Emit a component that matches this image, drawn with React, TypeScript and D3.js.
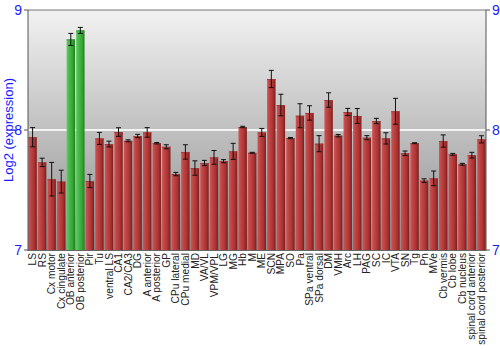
import React from "react";
import * as d3 from "d3";

const categories = ["LS","RS","Cx motor","Cx cingulate","OB anterior","OB posterior","Pir","Tu","ventral LS","CA1","CA2/CA3","DG","A anterior","A posterior","GP","CPu lateral","CPu medial","MD","VA/VL","VPM/VPL","LG","MG","Hb","M","ME","SCN","MPA","SO","Pa","SPa ventral","SPa dorsal","DM","VMH","Arc","LH","PAG","SC","IC","VTA","SN","Tg","Pn","MVe","Cb vermis","Cb lobe","Cb nucleus","spinal cord anterior","spinal cord posterior"];
const values = [7.94,7.73,7.59,7.57,8.755,8.83,7.575,7.93,7.883,7.983,7.91,7.95,7.98,7.89,7.86,7.633,7.817,7.683,7.725,7.772,7.74,7.822,8.025,7.81,7.98,8.425,8.208,7.933,8.119,8.142,7.886,8.25,7.953,8.15,8.117,7.936,8.075,7.93,8.156,7.806,7.89,7.578,7.597,7.908,7.797,7.714,7.79,7.922];
const errors = [0.08,0.035,0.14,0.095,0.05,0.025,0.055,0.05,0.024,0.036,0.008,0.014,0.04,0.006,0.017,0.014,0.06,0.06,0.022,0.057,0.013,0.067,0.006,0.004,0.033,0.072,0.09,0.005,0.1,0.06,0.067,0.06,0.01,0.03,0.062,0.017,0.022,0.047,0.108,0.019,0.004,0.015,0.061,0.051,0.008,0.008,0.024,0.03];
const highlighted = ["OB anterior","OB posterior"];
const yTicks = [7, 8, 9];

export default function App() {
  const W = 500, H = 350;
  const left = 28, right = 486, top = 10, bottom = 250;
  const x = d3.scaleBand<string>().domain(categories).range([left, right]).paddingInner(0.12).paddingOuter(0.04);
  const y = d3.scaleLinear().domain([7, 9]).range([bottom, top]);
  const bw = x.bandwidth();
  const font = "'Liberation Sans', Arial, sans-serif";
  return (
    <svg width={W} height={H} style={{ position: "absolute", left: 0, top: 0, background: "#fff" }} fontFamily={font}>
      <defs>
        <linearGradient id="bg" x1="0" y1="0" x2="0" y2="1">
          <stop offset="0%" stopColor="#f2f2f2" />
          <stop offset="100%" stopColor="#8e8e8e" />
        </linearGradient>
        <linearGradient id="red" x1="0" y1="0" x2="1" y2="0">
          <stop offset="0%" stopColor="#cc5555" />
          <stop offset="25%" stopColor="#c24646" />
          <stop offset="70%" stopColor="#a83232" />
          <stop offset="100%" stopColor="#7c1c1c" />
        </linearGradient>
        <linearGradient id="green" x1="0" y1="0" x2="1" y2="0">
          <stop offset="0%" stopColor="#66cc66" />
          <stop offset="25%" stopColor="#4cbb4c" />
          <stop offset="70%" stopColor="#35a535" />
          <stop offset="100%" stopColor="#1f7f1f" />
        </linearGradient>
      </defs>
      <rect x={left} y={top} width={right - left} height={bottom - top} fill="url(#bg)" />
      <line x1={left} x2={right} y1={y(8)} y2={y(8)} stroke="#f4f4f4" strokeWidth={2} />
      {categories.map((c, i) => {
        const isG = highlighted.includes(c);
        const bx = x(c)!;
        const v = values[i];
        const e = errors[i];
        const cx = bx + bw / 2;
        return (
          <g key={c}>
            <rect x={bx} y={y(v)} width={bw} height={bottom - y(v)} fill={isG ? "url(#green)" : "url(#red)"} />
            <line x1={bx} x2={bx + bw} y1={y(v) + 0.5} y2={y(v) + 0.5} stroke={isG ? "#3a9a3a" : "#a33a3a"} strokeWidth={1} />
            <line x1={cx} x2={cx} y1={y(v + e)} y2={y(v - e)} stroke="#111" strokeWidth={1} />
            <line x1={cx - 2.5} x2={cx + 2.5} y1={y(v + e)} y2={y(v + e)} stroke="#111" strokeWidth={1} />
            <line x1={cx - 2.5} x2={cx + 2.5} y1={y(v - e)} y2={y(v - e)} stroke="#111" strokeWidth={1} />
            <text transform={`translate(${cx + 3.6},${bottom + 3}) rotate(-90)`} textAnchor="end" fontSize={10.2} fill="#222">{c}</text>
          </g>
        );
      })}
      <line x1={left} x2={right} y1={top} y2={top} stroke="#777" strokeWidth={1} />
      <line x1={left} x2={left} y1={top} y2={bottom + 1} stroke="#555" strokeWidth={1} />
      <line x1={right} x2={right} y1={top} y2={bottom + 1} stroke="#555" strokeWidth={1} />
      <line x1={left} x2={right} y1={bottom + 0.5} y2={bottom + 0.5} stroke="#666" strokeWidth={1} />
      {yTicks.map(t => (
        <g key={t}>
          <line x1={left - 4} x2={left} y1={y(t)} y2={y(t)} stroke="#555" />
          <line x1={right} x2={right + 4} y1={y(t)} y2={y(t)} stroke="#555" />
          <text x={left - 6} y={y(t) + 5} textAnchor="end" fontSize={14} fill="#1a1aff">{t}</text>
          <text x={right + 6} y={y(t) + 5} textAnchor="start" fontSize={14} fill="#1a1aff">{t}</text>
        </g>
      ))}
      <text transform={`translate(13,${(top + bottom) / 2}) rotate(-90)`} textAnchor="middle" fontSize={13} fill="#1a1aff">Log2 (expression)</text>
    </svg>
  );
}
